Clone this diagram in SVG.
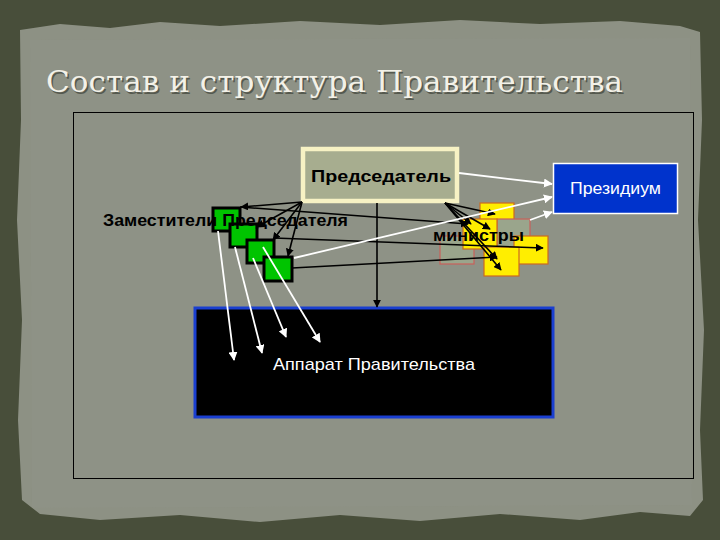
<svg xmlns="http://www.w3.org/2000/svg" width="720" height="540" viewBox="0 0 720 540">
<defs>
<style>
.blk{stroke:#000;stroke-width:1.6;fill:none}
.wht{stroke:#fff;stroke-width:1.8;fill:none}
.green{fill:#00c400;stroke:#000;stroke-width:3}
.yel{fill:#ffee00;stroke:#cc6a20;stroke-width:1.2}
.gry{fill:#9aa58c;stroke:#c9605a;stroke-width:1.2}
.lbl{font-family:"Liberation Sans",Arial,sans-serif;font-size:17px}
</style>
<marker id="ab" viewBox="0 0 10 10" refX="9" refY="5" markerWidth="5" markerHeight="5" orient="auto"><path d="M0,0 L10,5 L0,10 z" fill="#000"/></marker>
<marker id="aw" viewBox="0 0 10 10" refX="9" refY="5" markerWidth="5" markerHeight="5" orient="auto"><path d="M0,0 L10,5 L0,10 z" fill="#fff"/></marker>
</defs>
<rect width="720" height="540" fill="#484e3a"/>
<path d="M20,30 L60,24 L110,28 L160,22 L220,26 L300,21 L380,25 L460,20 L540,24 L620,21 L680,26 L700,32 L702,120 L698,220 L704,330 L700,430 L703,500 L690,516 L640,512 L580,520 L500,514 L420,521 L340,515 L260,522 L180,515 L100,520 L40,514 L22,500 L18,420 L22,320 L17,220 L21,120 z" fill="#8d9184"/>
<path d="M30,40 L690,38 L692,505 L32,508 z" fill="#8f9387" opacity="0.6"/>
<text x="46" y="92" font-family="'DejaVu Serif','Liberation Serif',serif" font-size="30" fill="#1e2218" opacity="0.5" textLength="577" lengthAdjust="spacingAndGlyphs" transform="translate(1.5,1.5)">Состав и структура Правительства</text>
<text x="46" y="92" font-family="'DejaVu Serif','Liberation Serif',serif" font-size="30" fill="#f3f1e8" textLength="577" lengthAdjust="spacingAndGlyphs">Состав и структура Правительства</text>
<rect x="73.5" y="112.5" width="620" height="366" fill="none" stroke="#000" stroke-width="1"/>

<g id="apparat">
<rect x="195" y="308" width="358" height="109" fill="#000" stroke="#1a3fd0" stroke-width="3"/>
<text class="lbl" x="273" y="370" fill="#fff" font-size="18" textLength="202" lengthAdjust="spacingAndGlyphs">Аппарат Правительства</text>
</g>

<g id="predsedatel">
<rect x="303" y="149" width="154" height="52" fill="#a7ad8f" stroke="#f7f2c4" stroke-width="4.5"/>
<text class="lbl" x="311" y="182" font-weight="bold" font-size="18" fill="#000" textLength="140" lengthAdjust="spacingAndGlyphs">Председатель</text>
</g>

<g id="prezidium">
<rect x="553.5" y="163.5" width="124" height="50" fill="#0033cc" stroke="#fff" stroke-width="1.5"/>
<text class="lbl" x="570" y="194" fill="#fff" textLength="91" lengthAdjust="spacingAndGlyphs">Президиум</text>
</g>

<g id="zamestiteli">
<rect class="green" x="213" y="208" width="27" height="23"/>
<rect class="green" x="230" y="224" width="27" height="23"/>
<rect class="green" x="247" y="240" width="27" height="23"/>
<rect class="green" x="264" y="257" width="28" height="24"/>
<text class="lbl" x="103" y="226" font-weight="bold" fill="#000" textLength="245" lengthAdjust="spacingAndGlyphs">Заместители Председателя</text>
</g>

<g id="ministry">
<rect class="gry" x="440" y="236" width="34" height="28"/>
<rect class="yel" x="480" y="203" width="34" height="30"/>
<rect class="gry" x="497" y="219" width="33" height="30"/>
<rect class="yel" x="463" y="219" width="34" height="30"/>
<rect class="yel" x="514" y="236" width="34" height="28"/>
<rect class="yel" x="484" y="247" width="35" height="29"/>
<text class="lbl" x="433" y="241" font-weight="bold" font-size="18" fill="#000" textLength="91" lengthAdjust="spacingAndGlyphs">министры</text>
</g>

<g id="connectors">
<line class="blk" x1="377" y1="203" x2="377" y2="307" marker-end="url(#ab)"/>
<line class="blk" x1="302" y1="202" x2="241" y2="207" marker-end="url(#ab)"/>
<line class="blk" x1="302" y1="202" x2="257" y2="227" marker-end="url(#ab)"/>
<line class="blk" x1="302" y1="202" x2="273" y2="240" marker-end="url(#ab)"/>
<line class="blk" x1="302" y1="202" x2="288" y2="256" marker-end="url(#ab)"/>
<line class="blk" x1="445" y1="203" x2="495" y2="214" marker-end="url(#ab)"/>
<line class="blk" x1="445" y1="203" x2="471" y2="224" marker-end="url(#ab)"/>
<line class="blk" x1="445" y1="203" x2="490" y2="229" marker-end="url(#ab)"/>
<line class="blk" x1="445" y1="203" x2="497" y2="259" marker-end="url(#ab)"/>
<line class="blk" x1="445" y1="203" x2="501" y2="270" marker-end="url(#ab)"/>
<line class="blk" x1="240" y1="207" x2="468" y2="224" marker-end="url(#ab)"/>
<line class="blk" x1="274" y1="238" x2="543" y2="248" marker-end="url(#ab)"/>
<line class="blk" x1="292" y1="268" x2="497" y2="257" marker-end="url(#ab)"/>
<line class="wht" x1="459" y1="173" x2="552" y2="184" marker-end="url(#aw)"/>
<line class="wht" x1="294" y1="258" x2="552" y2="197" marker-end="url(#aw)"/>
<line class="wht" x1="530" y1="220" x2="552" y2="212" marker-end="url(#aw)"/>
<line class="wht" x1="218" y1="231" x2="234" y2="360" marker-end="url(#aw)"/>
<line class="wht" x1="235" y1="247" x2="262" y2="353" marker-end="url(#aw)"/>
<line class="wht" x1="253" y1="258" x2="286" y2="337" marker-end="url(#aw)"/>
<line class="wht" x1="263" y1="247" x2="320" y2="342" marker-end="url(#aw)"/>
</g>
</svg>
